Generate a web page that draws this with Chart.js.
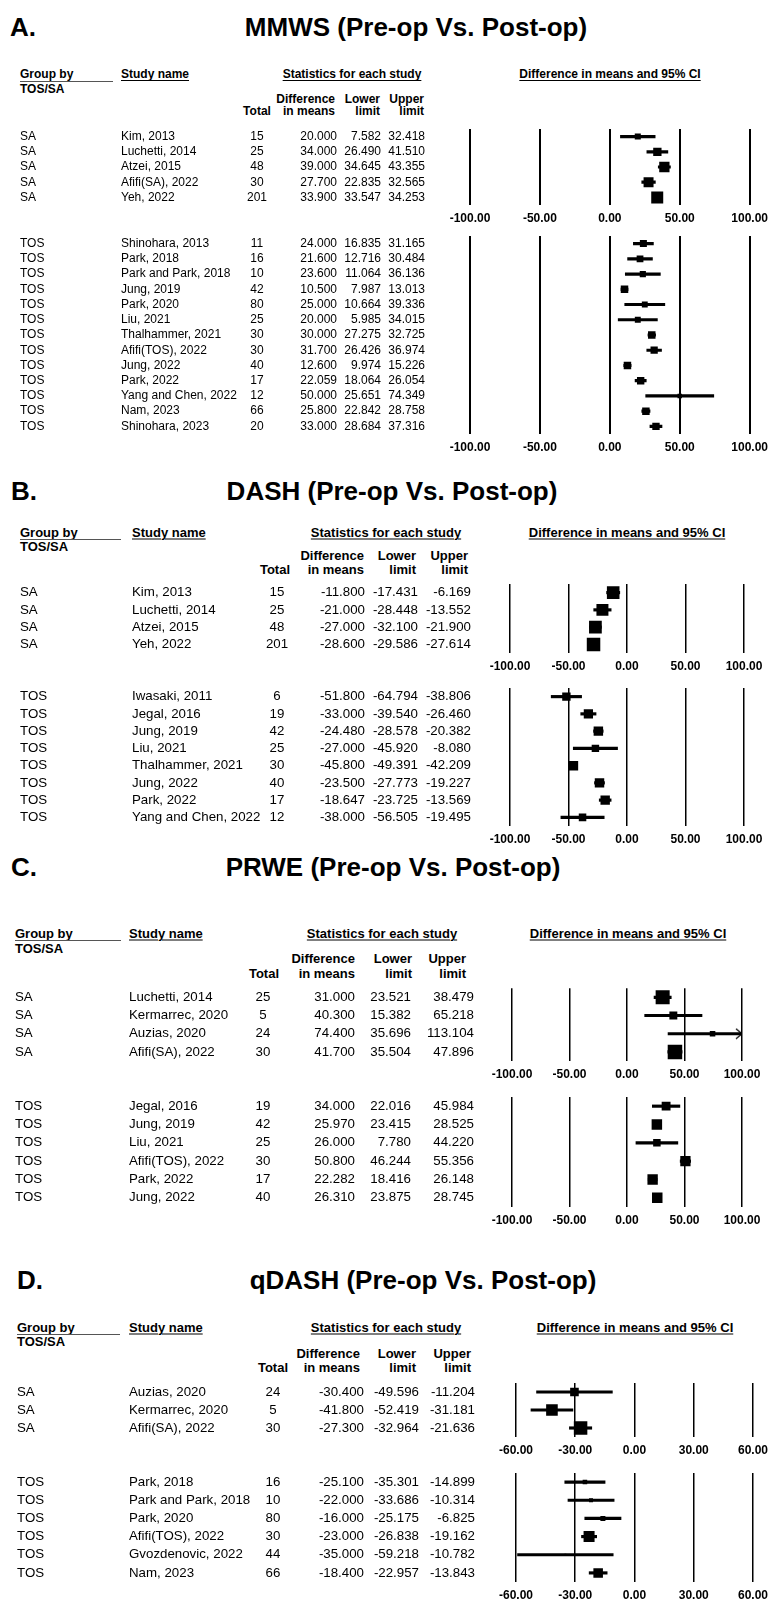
<!DOCTYPE html>
<html>
<head>
<meta charset="utf-8">
<script src="https://cdn.jsdelivr.net/npm/chart.js@4.4.1/dist/chart.umd.min.js"></script>
<style>
body { margin: 0; background: #fff; }
#page { position: relative; width: 774px; height: 1600px; overflow: hidden; color: #000;
        font-family: "Liberation Sans", Arial, sans-serif; }
.t { position: absolute; white-space: nowrap; line-height: 1; }
.u { text-decoration: underline; text-underline-offset: 2px; text-decoration-thickness: 1px; }
canvas { position: absolute; left: 0; }
</style>
</head>
<body>
<div id="page"></div>
<script>
// ---- data ----
const mmwsSaStudies = ["Kim, 2013", "Luchetti, 2014", "Atzei, 2015", "Afifi(SA), 2022", "Yeh, 2022"];
const mmwsSaTotal = [15, 25, 48, 30, 201];
const mmwsSaDiff = [20.000, 34.000, 39.000, 27.700, 33.900];
const mmwsSaLower = [7.582, 26.490, 34.645, 22.835, 33.547];
const mmwsSaUpper = [32.418, 41.510, 43.355, 32.565, 34.253];

const mmwsTosStudies = ["Shinohara, 2013", "Park, 2018", "Park and Park, 2018", "Jung, 2019", "Park, 2020", "Liu, 2021",
  "Thalhammer, 2021", "Afifi(TOS), 2022", "Jung, 2022", "Park, 2022", "Yang and Chen, 2022", "Nam, 2023", "Shinohara, 2023"];
const mmwsTosTotal = [11, 16, 10, 42, 80, 25, 30, 30, 40, 17, 12, 66, 20];
const mmwsTosDiff = [24.000, 21.600, 23.600, 10.500, 25.000, 20.000, 30.000, 31.700, 12.600, 22.059, 50.000, 25.800, 33.000];
const mmwsTosLower = [16.835, 12.716, 11.064, 7.987, 10.664, 5.985, 27.275, 26.426, 9.974, 18.064, 25.651, 22.842, 28.684];
const mmwsTosUpper = [31.165, 30.484, 36.136, 13.013, 39.336, 34.015, 32.725, 36.974, 15.226, 26.054, 74.349, 28.758, 37.316];

const dashSaStudies = ["Kim, 2013", "Luchetti, 2014", "Atzei, 2015", "Yeh, 2022"];
const dashSaTotal = [15, 25, 48, 201];
const dashSaDiff = [-11.800, -21.000, -27.000, -28.600];
const dashSaLower = [-17.431, -28.448, -32.100, -29.586];
const dashSaUpper = [-6.169, -13.552, -21.900, -27.614];

const dashTosStudies = ["Iwasaki, 2011", "Jegal, 2016", "Jung, 2019", "Liu, 2021", "Thalhammer, 2021", "Jung, 2022",
  "Park, 2022", "Yang and Chen, 2022"];
const dashTosTotal = [6, 19, 42, 25, 30, 40, 17, 12];
const dashTosDiff = [-51.800, -33.000, -24.480, -27.000, -45.800, -23.500, -18.647, -38.000];
const dashTosLower = [-64.794, -39.540, -28.578, -45.920, -49.391, -27.773, -23.725, -56.505];
const dashTosUpper = [-38.806, -26.460, -20.382, -8.080, -42.209, -19.227, -13.569, -19.495];

const prweSaStudies = ["Luchetti, 2014", "Kermarrec, 2020", "Auzias, 2020", "Afifi(SA), 2022"];
const prweSaTotal = [25, 5, 24, 30];
const prweSaDiff = [31.000, 40.300, 74.400, 41.700];
const prweSaLower = [23.521, 15.382, 35.696, 35.504];
const prweSaUpper = [38.479, 65.218, 113.104, 47.896];

const prweTosStudies = ["Jegal, 2016", "Jung, 2019", "Liu, 2021", "Afifi(TOS), 2022", "Park, 2022", "Jung, 2022"];
const prweTosTotal = [19, 42, 25, 30, 17, 40];
const prweTosDiff = [34.000, 25.970, 26.000, 50.800, 22.282, 26.310];
const prweTosLower = [22.016, 23.415, 7.780, 46.244, 18.416, 23.875];
const prweTosUpper = [45.984, 28.525, 44.220, 55.356, 26.148, 28.745];

const qdashSaStudies = ["Auzias, 2020", "Kermarrec, 2020", "Afifi(SA), 2022"];
const qdashSaTotal = [24, 5, 30];
const qdashSaDiff = [-30.400, -41.800, -27.300];
const qdashSaLower = [-49.596, -52.419, -32.964];
const qdashSaUpper = [-11.204, -31.181, -21.636];

const qdashTosStudies = ["Park, 2018", "Park and Park, 2018", "Park, 2020", "Afifi(TOS), 2022", "Gvozdenovic, 2022", "Nam, 2023"];
const qdashTosTotal = [16, 10, 80, 30, 44, 66];
const qdashTosDiff = [-25.100, -22.000, -16.000, -23.000, -35.000, -18.400];
const qdashTosLower = [-35.301, -33.686, -25.175, -26.838, -59.218, -22.957];
const qdashTosUpper = [-14.899, -10.314, -6.825, -19.162, -10.782, -13.843];

const wideTicks = [-100, -50, 0, 50, 100];
const qdashTicks = [-60, -30, 0, 30, 60];

// ---- layout ----
const FONT = '"Liberation Sans", Arial, sans-serif';
const page = document.getElementById('page');

const panels = [
  { letter: "A.", title: "MMWS (Pre-op Vs. Post-op)", titleY: 27, titleX: 416, letterX: 10,
    hy: [74, 89, 99, 111], hsize: 12, size: 12, groupLine: 113, statsX: 352, ciX: 610,
    cols: { group: 20, study: 121, total: 257, diff: 337, lower: 381, upper: 425 },
    hcols: { total: 257, diff: 335, lower: 380, upper: 424 },
    plot: [470, 751], grid: 2, ticks: wideTicks,
    subs: [
      { group: "SA", studies: mmwsSaStudies, total: mmwsSaTotal, diff: mmwsSaDiff, lower: mmwsSaLower, upper: mmwsSaUpper, top: 128.5, step: 15.2, box: 12 },
      { group: "TOS", studies: mmwsTosStudies, total: mmwsTosTotal, diff: mmwsTosDiff, lower: mmwsTosLower, upper: mmwsTosUpper, top: 235.5, step: 15.25, box: 7.5 }
    ] },
  { letter: "B.", title: "DASH (Pre-op Vs. Post-op)", titleY: 491, titleX: 392, letterX: 11,
    hy: [532, 546, 555, 569], hsize: 13, size: 13.3, groupLine: 121, statsX: 386, ciX: 627,
    cols: { group: 20, study: 132, total: 277, diff: 365, lower: 418, upper: 471 },
    hcols: { total: 275, diff: 364, lower: 416, upper: 468 },
    plot: [510, 744], grid: 1.5, ticks: wideTicks,
    subs: [
      { group: "SA", studies: dashSaStudies, total: dashSaTotal, diff: dashSaDiff, lower: dashSaLower, upper: dashSaUpper, top: 583.5, step: 17.3, box: 13.5 },
      { group: "TOS", studies: dashTosStudies, total: dashTosTotal, diff: dashTosDiff, lower: dashTosLower, upper: dashTosUpper, top: 687.5, step: 17.3, box: 9.5 }
    ] },
  { letter: "C.", title: "PRWE (Pre-op Vs. Post-op)", titleY: 867, titleX: 393, letterX: 11,
    hy: [933, 948, 958, 973], hsize: 13, size: 13.3, groupLine: 121, statsX: 382, ciX: 628,
    cols: { group: 15, study: 129, total: 263, diff: 355, lower: 411, upper: 474 },
    hcols: { total: 264, diff: 355, lower: 412, upper: 466 },
    plot: [512, 742], grid: 1.5, ticks: wideTicks,
    subs: [
      { group: "SA", studies: prweSaStudies, total: prweSaTotal, diff: prweSaDiff, lower: prweSaLower, upper: prweSaUpper, top: 988, step: 18.3, box: 14.5 },
      { group: "TOS", studies: prweTosStudies, total: prweTosTotal, diff: prweTosDiff, lower: prweTosLower, upper: prweTosUpper, top: 1097, step: 18.4, box: 10.5 }
    ] },
  { letter: "D.", title: "qDASH (Pre-op Vs. Post-op)", titleY: 1280, titleX: 423, letterX: 17,
    hy: [1327, 1341, 1353, 1367], hsize: 13, size: 13.3, groupLine: 120, statsX: 386, ciX: 635,
    cols: { group: 17, study: 129, total: 273, diff: 364, lower: 419, upper: 475 },
    hcols: { total: 273, diff: 360, lower: 416, upper: 471 },
    plot: [516, 754], grid: 1.5, ticks: qdashTicks,
    subs: [
      { group: "SA", studies: qdashSaStudies, total: qdashSaTotal, diff: qdashSaDiff, lower: qdashSaLower, upper: qdashSaUpper, top: 1383, step: 18, box: 13.5 },
      { group: "TOS", studies: qdashTosStudies, total: qdashTosTotal, diff: qdashTosDiff, lower: qdashTosLower, upper: qdashTosUpper, top: 1473, step: 18.2, box: 11 }
    ] }
];

function put(text, x, y, size, bold, align, cls) {
  const d = document.createElement('div');
  d.className = 't' + (cls ? ' ' + cls : '');
  d.textContent = text;
  d.style.fontSize = size + 'px';
  d.style.fontWeight = bold ? 'bold' : 'normal';
  d.style.left = x + 'px';
  d.style.top = y + 'px';
  const tx = align === 'center' ? '-50%' : align === 'right' ? '-100%' : '0';
  d.style.transform = 'translate(' + tx + ', -50%)';
  page.appendChild(d);
  return d;
}

// random-effects (DerSimonian-Laird) weights -> box side, area proportional to weight
function boxSides(sub) {
  const v = sub.lower.map((l, i) => Math.pow((sub.upper[i] - l) / 3.92, 2));
  const w = v.map(x => 1 / x);
  const sw = w.reduce((a, b) => a + b, 0);
  const mu = w.reduce((a, wi, i) => a + wi * sub.diff[i], 0) / sw;
  const q = w.reduce((a, wi, i) => a + wi * Math.pow(sub.diff[i] - mu, 2), 0);
  const c = sw - w.reduce((a, wi) => a + wi * wi, 0) / sw;
  const tau2 = Math.max(0, (q - (w.length - 1)) / c);
  const wr = v.map(x => 1 / (x + tau2));
  const wmax = Math.max(...wr);
  return wr.map(x => sub.box * Math.sqrt(x / wmax));
}

// open arrow head used when a CI runs past the axis
function chevron() {
  const c = document.createElement('canvas');
  c.width = 16; c.height = 12;
  const g = c.getContext('2d');
  g.strokeStyle = '#000';
  g.lineWidth = 1.2;
  g.beginPath();
  g.moveTo(2, 1); g.lineTo(8, 6); g.lineTo(2, 11);
  g.stroke();
  return c;
}
const arrowHead = chevron();

function tablePlugin(sub, p) {
  return {
    id: 'table',
    afterDraw(chart) {
      const ctx = chart.ctx;
      const ys = chart.scales.y;
      ctx.save();
      ctx.fillStyle = '#000';
      ctx.font = p.size + 'px ' + FONT;
      ctx.textBaseline = 'middle';
      sub.studies.forEach((st, i) => {
        const y = ys.getPixelForValue(i);
        ctx.textAlign = 'left';
        ctx.fillText(sub.group, p.cols.group, y);
        ctx.fillText(st, p.cols.study, y);
        ctx.textAlign = 'center';
        ctx.fillText(String(sub.total[i]), p.cols.total, y);
        ctx.textAlign = 'right';
        ctx.fillText(sub.diff[i].toFixed(3), p.cols.diff, y);
        ctx.fillText(sub.lower[i].toFixed(3), p.cols.lower, y);
        ctx.fillText(sub.upper[i].toFixed(3), p.cols.upper, y);
      });
      ctx.restore();
    }
  };
}

function subplot(sub, p) {
  const padTop = 10, axisH = 26;
  const n = sub.studies.length;
  const canvas = document.createElement('canvas');
  canvas.width = 774;
  canvas.height = padTop + n * sub.step + axisH;
  canvas.style.top = (sub.top - padTop) + 'px';
  page.appendChild(canvas);

  const xmin = p.ticks[0], xmax = p.ticks[p.ticks.length - 1];
  const sides = boxSides(sub);
  const arrows = [];
  sub.upper.forEach((u, i) => { if (u > xmax) arrows.push({ x: xmax, y: sub.studies[i] }); });
  sub.lower.forEach((l, i) => { if (l < xmin) arrows.push({ x: xmin, y: sub.studies[i] }); });

  new Chart(canvas, {
    type: 'bar',
    data: {
      labels: sub.studies,
      datasets: [
        { type: 'scatter', data: sub.studies.map((st, i) => ({ x: sub.diff[i], y: st })),
          pointStyle: 'rect', pointRadius: sides.map(s => s / Math.SQRT2), backgroundColor: '#000',
          borderColor: '#000', borderWidth: 0, order: 0 },
        { type: 'bar', indexAxis: 'y', data: sub.lower.map((l, i) => [l, sub.upper[i]]),
          backgroundColor: '#000', barThickness: 2.5, borderWidth: 0, order: 1 },
        { type: 'scatter', data: arrows, pointStyle: arrowHead, pointRadius: 5, order: 2 }
      ]
    },
    options: {
      indexAxis: 'y',
      responsive: false,
      animation: false,
      events: [],
      layout: { padding: { left: p.plot[0], right: 774 - p.plot[1], top: padTop, bottom: 0 } },
      plugins: { legend: { display: false }, tooltip: { enabled: false } },
      scales: {
        x: {
          type: 'linear', min: xmin, max: xmax,
          afterBuildTicks: s => { s.ticks = p.ticks.map(v => ({ value: v })); },
          afterFit: s => { s.height = axisH; },
          grid: { color: '#000', lineWidth: p.grid, drawTicks: false },
          border: { display: false },
          ticks: { color: '#000', padding: 6, autoSkip: false, maxRotation: 0,
                   font: { family: FONT, size: 12, weight: 'bold' },
                   callback: v => Number(v).toFixed(2) }
        },
        y: { type: 'category', offset: true, display: false }
      }
    },
    plugins: [tablePlugin(sub, p)]
  });
}

panels.forEach(p => {
  put(p.letter, p.letterX, p.titleY, 26, true, 'left');
  put(p.title, p.titleX, p.titleY, 26, true, 'center');

  const h = p.hsize;
  put("Group by", p.cols.group, p.hy[0], h, true, 'left');
  const line = document.createElement('div');
  line.style.cssText = 'position:absolute;height:1px;background:#555;left:' + p.cols.group + 'px;width:' +
    (p.groupLine - p.cols.group) + 'px;top:' + (p.hy[0] + 7) + 'px';
  page.appendChild(line);
  put("TOS/SA", p.cols.group, p.hy[1], h, true, 'left');
  put("Study name", p.cols.study, p.hy[0], h, true, 'left', 'u');
  put("Statistics for each study", p.statsX, p.hy[0], h, true, 'center', 'u');
  put("Difference in means and 95% CI", p.ciX, p.hy[0], h, true, 'center', 'u');
  put("Difference", p.hcols.diff, p.hy[2], h, true, 'right');
  put("in means", p.hcols.diff, p.hy[3], h, true, 'right');
  put("Lower", p.hcols.lower, p.hy[2], h, true, 'right');
  put("limit", p.hcols.lower, p.hy[3], h, true, 'right');
  put("Upper", p.hcols.upper, p.hy[2], h, true, 'right');
  put("limit", p.hcols.upper, p.hy[3], h, true, 'right');
  put("Total", p.hcols.total, p.hy[3], h, true, 'center');

  p.subs.forEach(sub => subplot(sub, p));
});
</script>
</body>
</html>
